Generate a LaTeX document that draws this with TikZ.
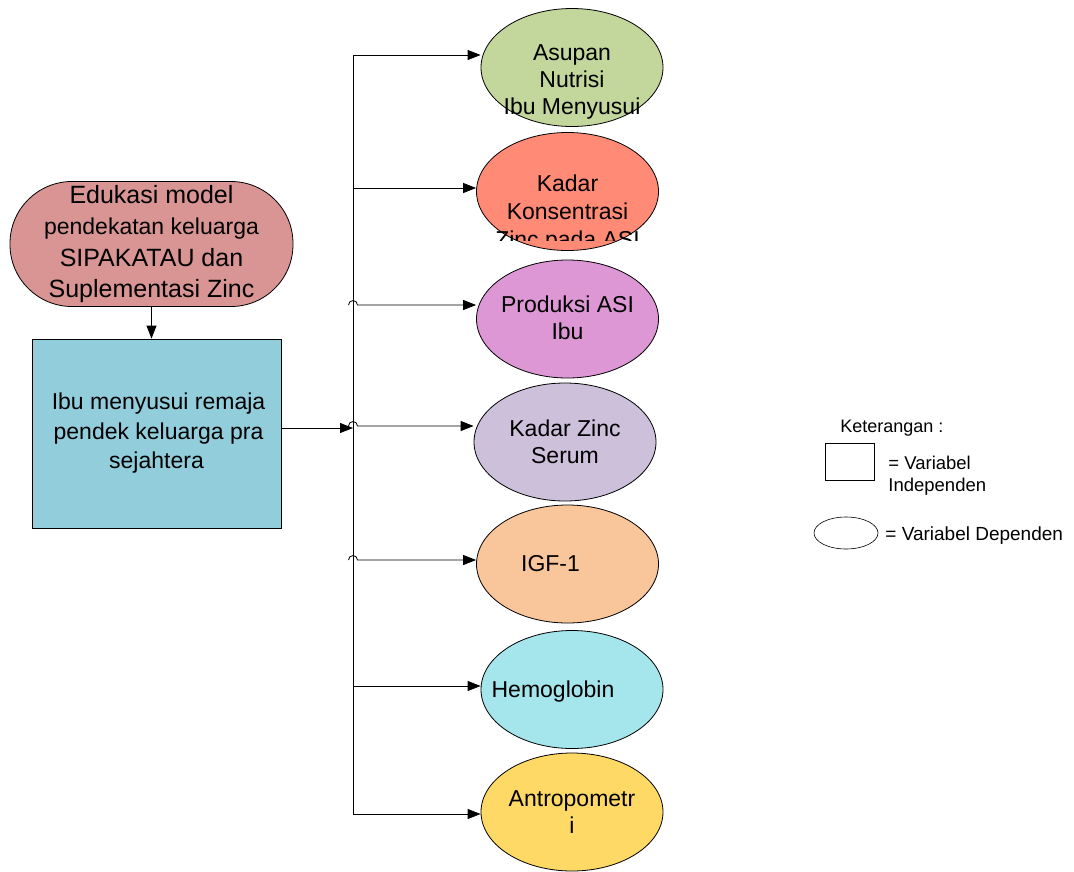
\documentclass[tikz,border=0pt]{standalone}
\usepackage{fontspec}
\setmainfont{Liberation Sans}
\usetikzlibrary{shapes.geometric,arrows.meta}

\definecolor{eduRed}{HTML}{D99594}
\definecolor{boxBlue}{HTML}{92CDDC}
\definecolor{varOlive}{HTML}{C3D69B}
\definecolor{varSalmon}{HTML}{FF8A76}
\definecolor{varOrchid}{HTML}{DD97D4}
\definecolor{varLilac}{HTML}{CCC0DA}
\definecolor{varPeach}{HTML}{F9C59B}
\definecolor{varCyan}{HTML}{A5E5EC}
\definecolor{varGold}{HTML}{FFD966}

\tikzset{
  arr/.style={-{Triangle[length=13pt,width=10pt]}},
  var/.style={ellipse, draw, minimum width=182pt, minimum height=118pt, inner sep=0pt},
  txt/.style={align=center, inner sep=0pt, font=\fontsize{23}{27}\selectfont},
}

\begin{document}
\begin{tikzpicture}[x=1pt,y=-1pt,line width=0.8pt]
    \useasboundingbox (0,0) rectangle (1074,871);

    % Intervensi dan variabel independen
    \node[draw, fill=eduRed, rounded corners=62pt, minimum width=283pt, minimum height=125pt,
          align=center, inner sep=0pt, font=\fontsize{25}{31.5}\selectfont] (edu) at (151.5,244)
          {Edukasi model\\{\fontsize{23}{31.5}\selectfont pendekatan keluarga}\\SIPAKATAU dan\\Suplementasi Zinc};
    \node[draw, fill=boxBlue, minimum width=249pt, minimum height=189pt,
          align=center, inner sep=0pt, font=\fontsize{23}{29.5}\selectfont] (box) at (156.5,433.5)
          {\hspace*{4pt}Ibu menyusui remaja\\\hspace*{4pt}pendek keluarga pra\\sejahtera};
    \draw[arr] (edu.south) -- (edu.south |- box.north);

    % Variabel dependen
    \node[var, fill=varOlive, label={[txt,yshift=-14pt]center:{Asupan\\Nutrisi\\Ibu Menyusui}}] (e1) at (572,67.5) {};
    \node[var, fill=varSalmon] (e2) at (567.5,191.5) {};
    \node[var, fill=varOrchid, label={[txt,yshift=1pt]center:{Produksi ASI\\Ibu}}] (e3) at (567.5,319) {};
    \node[var, fill=varLilac, label={[txt]center:{Kadar Zinc\\Serum}}] (e4) at (565,442) {};
    \node[var, fill=varPeach, label={[txt,xshift=-17pt]center:{IGF-1}}] (e5) at (567.5,564) {};
    \node[var, fill=varCyan, label={[txt,xshift=-19pt,yshift=-2pt]center:{Hemoglobin}}] (e6) at (572,689.5) {};
    \node[var, fill=varGold, label={[txt]center:{Antropometr\\i}}] (e7) at (572,812) {};

    % Teks kadar konsentrasi (terpotong)
    \begin{scope}
        \clip (470,120) rectangle (670,240);
        \node[txt, font=\fontsize{23}{28}\selectfont] (kons) at (567.5,214) {Kadar\\Konsentrasi\\Zinc pada ASI};
    \end{scope}

    % Garis penghubung
    \coordinate (b1) at (353,55);
    \coordinate (b2) at (353,188);
    \coordinate (b3) at (353,305);
    \coordinate (hub) at (353,428);
    \coordinate (b4) at (353,426);
    \coordinate (b5) at (353,560);
    \coordinate (b6) at (353,686);
    \coordinate (b7) at (353,814);

    \draw (b1) -- (b7);
    \draw[arr] (box.east |- hub) -- (hub);

    \draw[arr] (b1) -- (b1 -| e1.west);
    \draw[arr] (b2) -- (b2 -| e2.west);
    \draw[arr] ([xshift=-4.5pt]b3) arc[start angle=180, end angle=360, radius=4.5] -- (b3 -| e3.west);
    \draw[arr] ([xshift=-4.5pt]b4) arc[start angle=180, end angle=360, radius=4.5] -- (b4 -| e4.west);
    \draw[arr] ([xshift=-4.5pt]b5) arc[start angle=180, end angle=360, radius=4.5] -- (b5 -| e5.west);
    \draw[arr] (b6) -- (b6 -| e6.west);
    \draw[arr] (b7) -- (b7 -| e7.west);

    % Keterangan
    \node[anchor=base west, inner sep=0pt, font=\fontsize{18}{20}\selectfont] (ket) at (840,432) {Keterangan :};
    \node[draw, line width=0.6pt, minimum width=49pt, minimum height=37pt, inner sep=0pt] (lgbox) at (849.5,461.5) {};
    \node[anchor=north west, align=left, inner sep=0pt, font=\fontsize{18.5}{22}\selectfont] (lgind) at (888,456) {= Variabel\\Independen};
    \node[ellipse, draw, line width=0.6pt, minimum width=64pt, minimum height=32pt, inner sep=0pt] (lgell) at (846,533) {};
    \node[anchor=base west, inner sep=0pt, font=\fontsize{19}{22}\selectfont] (lgdep) at (885,540) {= Variabel Dependen};
\end{tikzpicture}
\end{document}
